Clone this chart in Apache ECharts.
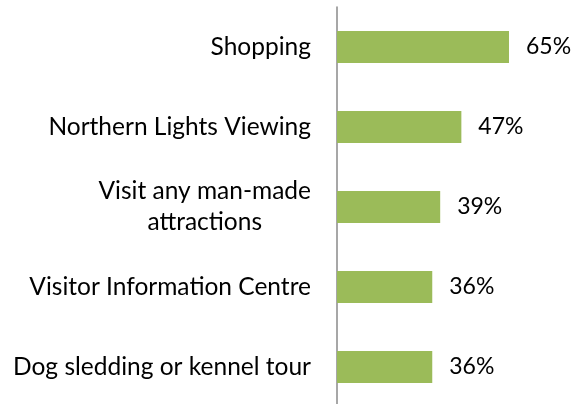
<!DOCTYPE html>
<html lang="en">
<head>
  <meta charset="UTF-8">
  <title>Activities</title>
  <script src="https://cdn.jsdelivr.net/npm/echarts@6/dist/echarts.min.js"></script>
  <style>
    html, body { margin: 0; padding: 0; background: #fff; }
    #chart { width: 581px; height: 404px; }
  </style>
</head>
<body>
  <div id="chart"></div>
  <script>
    var categories = [
      'Shopping',
      'Northern Lights Viewing',
      'Visit any man-made\nattractions',
      'Visitor Information Centre',
      'Dog sledding or kennel tour'
    ]
    var values = [65, 47, 39, 36, 36]

    var FONT = 'Lato'
    var SIZE = 24.5

    // width of the widest line, so multi-line labels can be centred within it
    function textWidth (s) {
      var c = document.createElement('canvas').getContext('2d')
      c.font = SIZE + 'px ' + FONT
      return c.measureText(s).width
    }

    var chart = echarts.init(document.getElementById('chart'))
    chart.setOption({
      animation: false,
      grid: { left: 337, top: 7, width: 264.6, height: 400, outerBoundsMode: 'none', containLabel: false },
      xAxis: {
        type: 'value',
        min: 0,
        max: 100,
        show: false
      },
      yAxis: {
        type: 'category',
        inverse: true,
        data: categories,
        axisLine: { lineStyle: { color: '#8a8a8a', width: 1.5 } },
        axisTick: { show: false },
        axisLabel: {
          margin: 26,
          color: '#000',
          fontFamily: FONT,
          fontSize: SIZE,
          formatter: function (v) {
            var lines = v.split('\n')
            if (lines.length === 1) return v
            return lines.map(function (l) { return '{c|' + l + '}' }).join('\n')
          },
          rich: {
            c: {
              fontFamily: FONT,
              fontSize: SIZE,
              color: '#000',
              lineHeight: 31,
              align: 'center',
              width: textWidth('Visit any man-made')
            }
          }
        }
      },
      series: [{
        type: 'bar',
        data: values,
        barWidth: 32,
        itemStyle: { color: '#9bbb59' },
        label: {
          show: true,
          position: 'right',
          distance: 17,
          color: '#000',
          fontFamily: FONT,
          fontSize: 23,
          formatter: '{c}%'
        }
      }]
    })
  </script>
</body>
</html>
